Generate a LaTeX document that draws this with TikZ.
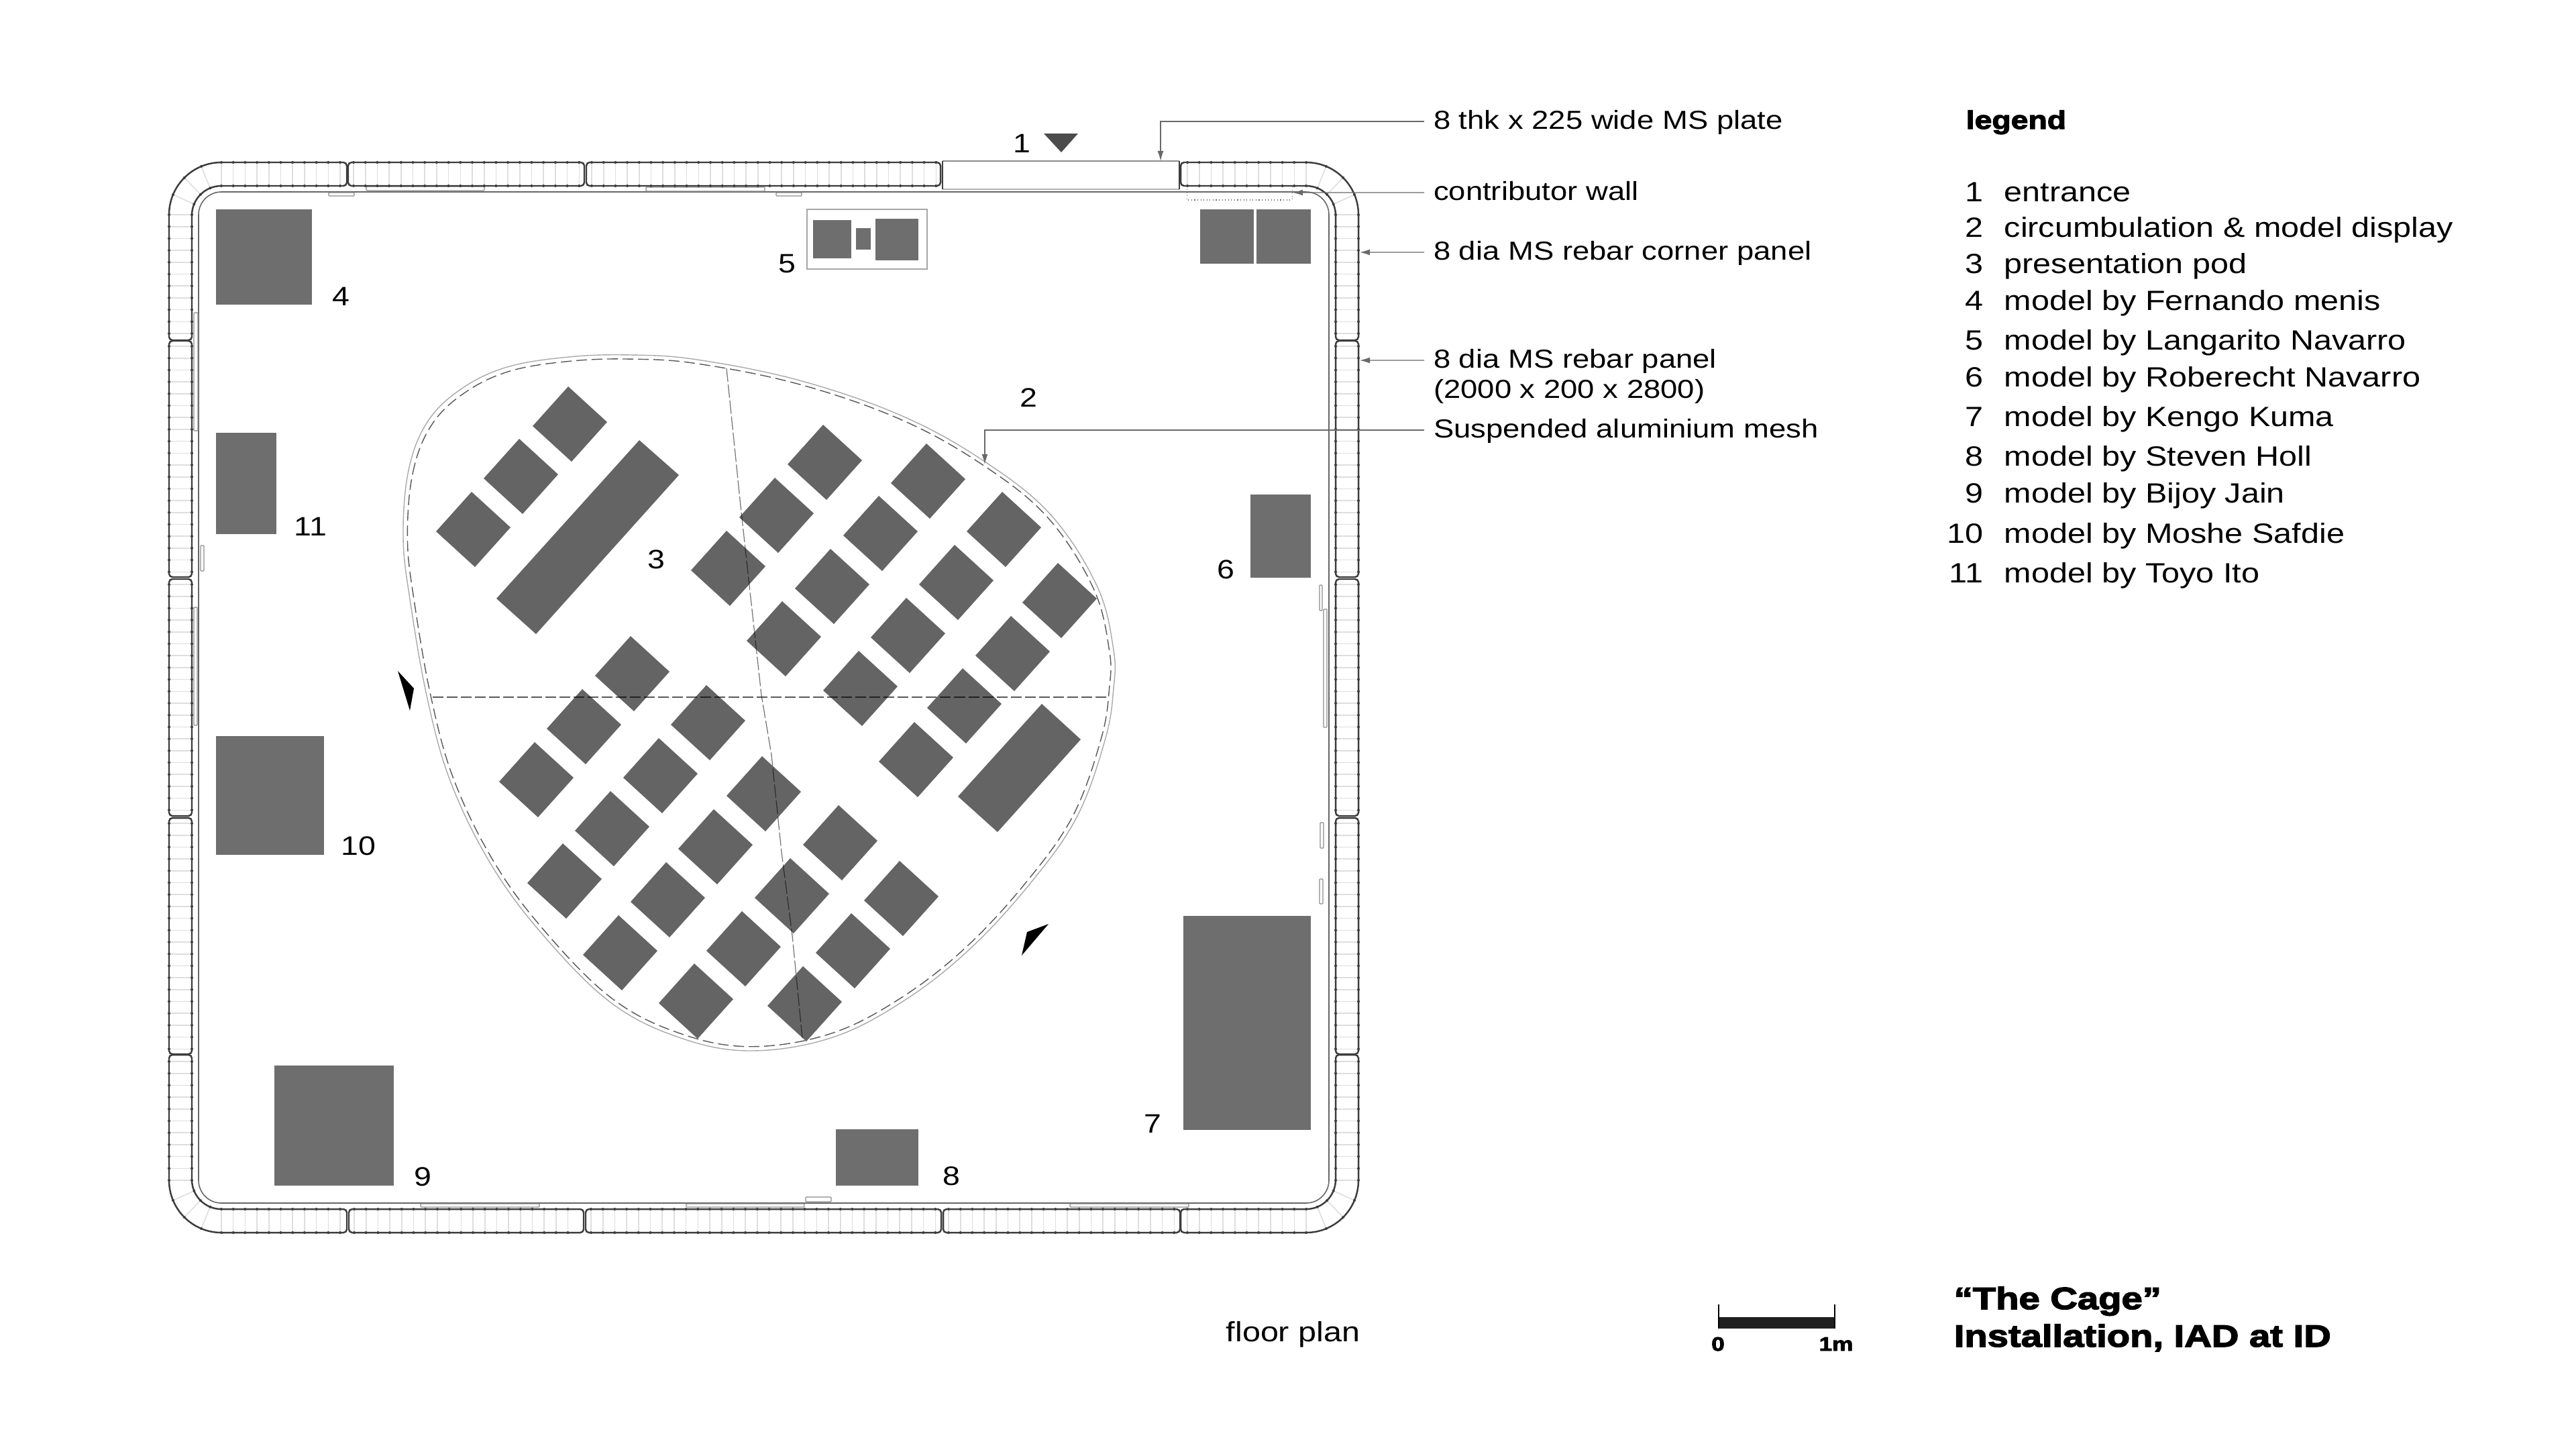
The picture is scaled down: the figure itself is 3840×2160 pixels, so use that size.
\documentclass[tikz,border=0pt]{standalone}
\usepackage{fontspec}
\usepackage{tikz}
\usetikzlibrary{arrows.meta}
\newfontfamily\planfont[FakeStretch=1.17]{Liberation Sans}
\newfontfamily\blackfont[FakeStretch=1.22,FakeBold=3.2]{Liberation Sans Bold}
\definecolor{planModel}{RGB}{110,110,110}
\definecolor{planPod}{RGB}{100,100,100}
\definecolor{planLine}{RGB}{60,60,60}
\definecolor{planRung}{RGB}{222,222,222}
\definecolor{planLeader}{RGB}{105,105,105}
\definecolor{planMesh}{RGB}{170,170,170}

\tikzset{
  panelLine/.style={planLine, line width=0.7pt},
  rungLine/.style={planRung, line width=0.45pt},
  wallLine/.style={black!60, line width=0.45pt},
  plateBox/.style={draw=black!45, fill=white, line width=0.35pt, rounded corners=0.01cm},
  modelBox/.style={fill=planModel},
  podBox/.style={fill=planPod},
  meshOuter/.style={planMesh, line width=0.4pt},
  meshDash/.style={black!65, line width=0.4pt, dash pattern=on 0.16cm off 0.07cm},
  leader/.style={planLeader, line width=0.4pt, -{Latex[length=0.15cm,width=0.09cm]}},
  calloutText/.style={font=\planfont\fontsize{11.05}{13}\selectfont, anchor=base west,
    text height=0.30cm, text depth=0.08cm, inner xsep=0.14cm, inner ysep=0pt, outer sep=0pt},
  planNumber/.style={font=\planfont\fontsize{11.3}{13}\selectfont, anchor=base, inner sep=0pt},
  legendText/.style={font=\planfont\fontsize{11.8}{14}\selectfont, anchor=base west, inner sep=0pt},
  legendNumber/.style={font=\planfont\fontsize{11.8}{14}\selectfont, anchor=base east, inner sep=0pt},
  titleText/.style={font=\blackfont\fontsize{13.1}{15}\selectfont, anchor=base west, inner sep=0pt},
  scaleText/.style={font=\blackfont\fontsize{8.2}{10}\selectfont, anchor=base, inner sep=0pt},
}

% one bar of the rebar panel with its two end dots
\newcommand{\panelrung}[2]{%
  \draw[rungLine] #1 -- #2;
  \fill[planLine] #1 circle [radius=2];
  \fill[planLine] #2 circle [radius=2];
}
\newcommand{\hpanel}[3]{%
  \pgfmathsetmacro{\panellen}{#2-#1-6}
  \foreach \t in {8,25.7,...,\panellen} {\panelrung{(#1+\t,#3)}{(#1+\t,#3+35)}}
  \draw[panelLine, rounded corners=0.05cm] (#1,#3) rectangle (#2,#3+35);
}
\newcommand{\vpanel}[3]{%
  \pgfmathsetmacro{\panellen}{#2-#1-6}
  \foreach \t in {8,25.7,...,\panellen} {\panelrung{(#3,#1+\t)}{(#3+34,#1+\t)}}
  \draw[panelLine, rounded corners=0.05cm] (#3,#1) rectangle (#3+34,#2);
}
\newcommand{\cornerpanel}[3]{%
  \begin{scope}[shift={(#1,#2)},#3]
    \foreach \t in {78,95.7,...,258} {
      \panelrung{(\t,0)}{(\t,35)}
      \panelrung{(0,\t)}{(34,\t)}
    }
    \foreach \a in {22.5,45,67.5} {
      \panelrung{({78-78*cos(\a)},{78-78*sin(\a)})}{({78-44*cos(\a)},{79-44*sin(\a)})}
    }
    \draw[panelLine, rounded corners=0.05cm] (265,35) -- (265,0) [rounded corners=0.78cm] -- (0,0)
      [rounded corners=0.05cm] -- (0,265) -- (34,265) [rounded corners=0.44cm] -- (34,35)
      [rounded corners=0.05cm] -- cycle;
  \end{scope}
}
% outline of the suspended mesh
\newcommand{\meshblob}[1]{%
  \draw[#1] plot[smooth cycle, tension=0.62] coordinates {
    (601,800) (609,701) (637,629) (687,580) (756,547) (848,532) (940,529) (1039,536)
    (1192,567) (1345,620) (1468,688) (1567,768) (1636,875) (1660,969) (1660,1025)
    (1648,1100) (1606,1216) (1537,1315) (1445,1415) (1345,1493) (1238,1547) (1116,1566)
    (1009,1545) (909,1493) (810,1394) (733,1290) (672,1166) (637,1041) (611,893)};
}

\begin{document}
\begin{tikzpicture}[x=0.01cm, y=-0.01cm]
  \useasboundingbox (0,0) rectangle (3840,2160);
  \fill[white] (0,0) rectangle (3840,2160);

  % inner wall and the thin plates along it
  \draw[wallLine, rounded corners=0.34cm] (296,286) rectangle (1981,1793);
  \foreach \xa/\ya/\xb/\yb in {546/278/722/284, 963/279/1140/285, 490/287/528/292, 1157/287/1195/292,
      289/466/295/642, 289/905/294/1081, 299/813/304/851,
      1967/872/1971/910, 1973/908/1978/1084, 1968/1226/1973/1264, 1967/1310/1972/1347,
      627/1794/804/1799, 1023/1794/1199/1799, 1595/1794/1772/1799, 1201/1784/1239/1791} {
    \draw[plateBox] (\xa,\ya) rectangle (\xb,\yb);
  }

  % rebar panels, corners first
  \cornerpanel{252}{242}{}
  \cornerpanel{2025}{242}{xscale=-1}
  \cornerpanel{252}{1837}{yscale=-1}
  \cornerpanel{2025}{1837}{xscale=-1,yscale=-1}
  \hpanel{519}{871}{242}
  \hpanel{874}{1402}{242}
  \hpanel{520}{870}{1802}
  \hpanel{873}{1403}{1802}
  \hpanel{1406}{1759}{1802}
  \foreach \x in {252,1991} {
    \vpanel{508}{860}{\x}
    \vpanel{863}{1216}{\x}
    \vpanel{1219}{1571}{\x}
  }

  % entrance gate, plate above it
  \draw[black!45, line width=0.4pt] (1405,240) -- (1758,240);
  \draw[black!30, line width=0.6pt] (1405,282) -- (1758,282);
  \draw[planLine, line width=0.7pt] (1405,240) -- (1405,282) (1758,240) -- (1758,282);
  \fill[black!70] (1556,199) -- (1607,199) -- (1582,227) -- cycle;
  \draw[black!60, line width=0.3pt, densely dotted] (1769,282) |- (1926,298) -- (1926,278);

  % model boxes
  \foreach \xa/\ya/\xb/\yb in {322/312/465/454, 322/645/412/796, 322/1097/483/1274,
      409/1588/587/1767, 1246/1683/1369/1767, 1764/1365/1954/1684, 1864/737/1954/861,
      1789/312/1869/393, 1873/312/1954/393, 1212/328/1269/385, 1276/340/1298/372, 1305/326/1369/388} {
    \fill[modelBox] (\xa,\ya) rectangle (\xb,\yb);
  }
  \draw[black!35, line width=0.4pt] (1203,312) rectangle (1382,401);

  % presentation pods
  \foreach \x/\y in {847/576, 774/654, 703/733, 1227/633, 1381/661, 1155/712, 1310/739, 1494/733,
      1083/791, 1238/818, 1423/812, 1577/839, 1166/896, 1351/891, 1507/918, 1280/970, 1435/996, 1363/1076,
      940/948, 868/1027, 1053/1021, 797/1106, 982/1100, 1136/1127, 910/1179, 1064/1206, 1250/1200,
      839/1257, 993/1285, 1178/1279, 1341/1283, 922/1364, 1106/1358, 1269/1361, 1035/1436, 1197/1440} {
    \fill[podBox] (\x,\y) -- ++(58,53) -- ++(-53,59) -- ++(-58,-53) -- cycle;
  }
  \fill[podBox] (953,656) -- (1012,708) -- (799,945) -- (740,892) -- cycle;
  \fill[podBox] (1553,1049) -- (1611,1102) -- (1487,1240) -- (1428,1187) -- cycle;

  % mesh outline, its section lines and view marks
  \meshblob{meshOuter}
  \meshblob{meshDash, shift={(13.6,12.5)}, scale=0.988}
  \draw[black, opacity=0.65, line width=0.4pt, dash pattern=on 0.16cm off 0.05cm] (645,1039) -- (1650,1039);
  \draw[black, opacity=0.55, line width=0.35pt, dash pattern=on 0.2cm off 0.04cm] (1083,549) -- (1104,754)
    -- (1135,1036) -- (1150,1125) -- (1165,1270) -- (1181,1394) -- (1196,1547);
  \fill[black] (593,1000) -- (617,1026) -- (611,1059) -- cycle;
  \fill[black] (1563,1377) -- (1531,1389) -- (1523,1424) -- cycle;

  % callouts
  \node[calloutText] (plateText) at (2123,192) {8 thk x 225 wide MS plate};
  \node[calloutText] (wallText) at (2123,298) {contributor wall};
  \node[calloutText] (cornerText) at (2123,387) {8 dia MS rebar corner panel};
  \node[calloutText] (panelText) at (2123,548) {8 dia MS rebar panel};
  \node[calloutText] (sizeText) at (2123,593) {(2000 x 200 x 2800)};
  \node[calloutText] (meshText) at (2123,652) {Suspended aluminium mesh};
  \coordinate (plateTip) at (1730,240);
  \coordinate (wallTip) at (1927,287);
  \coordinate (cornerTip) at (2027,376);
  \coordinate (panelTip) at (2027,537);
  \coordinate (meshTip) at (1468,692);
  \draw[leader] (plateText.west) -| (plateTip);
  \draw[leader] (wallText.west) -- (wallTip);
  \draw[leader] (cornerText.west) -- (cornerTip);
  \draw[leader] (panelText.west) -- (panelTip);
  \draw[leader] (meshText.west) -| (meshTip);

  % numbers on the plan
  \foreach \n/\x/\y in {1/1523/227, 2/1533/606, 3/978/847, 4/508/455, 5/1173/406, 6/1827/862,
      7/1718/1688, 8/1418/1766, 9/630/1767, 10/534/1274, 11/463/798} {
    \node[planNumber] (plan\n) at (\x,\y) {\n};
  }

  % legend
  \node[titleText, font=\blackfont\fontsize{10.8}{13}\selectfont] (legendTitle) at (2930,192) {legend};
  \foreach \n/\y/\txt in {1/300/entrance, 2/353/circumbulation \& model display, 3/407/presentation pod,
      4/462/model by Fernando menis, 5/521/model by Langarito Navarro, 6/576/model by Roberecht Navarro,
      7/635/model by Kengo Kuma, 8/694/model by Steven Holl, 9/749/model by Bijoy Jain,
      10/809/model by Moshe Safdie, 11/868/model by Toyo Ito} {
    \node[legendNumber] (legendNum\n) at (2957,\y) {\n};
    \node[legendText] (legendItem\n) at (2987,\y) {\txt};
  }

  % bottom row: caption, scale bar, title
  \node[legendText] (floorPlan) at (1827,1999) {floor plan};
  \fill[black!88] (2562,1963) rectangle (2735,1980);
  \draw[black, line width=0.4pt] (2562,1944) -- (2562,1980) (2735,1944) -- (2735,1980);
  \node[scaleText] (scaleZero) at (2561,2013) {0};
  \node[scaleText] (scaleOne) at (2737,2013) {1m};
  \node[titleText] (titleOne) at (2912,1951) {“The Cage”};
  \node[titleText] (titleTwo) at (2912,2007) {Installation, IAD at ID};
\end{tikzpicture}
\end{document}
